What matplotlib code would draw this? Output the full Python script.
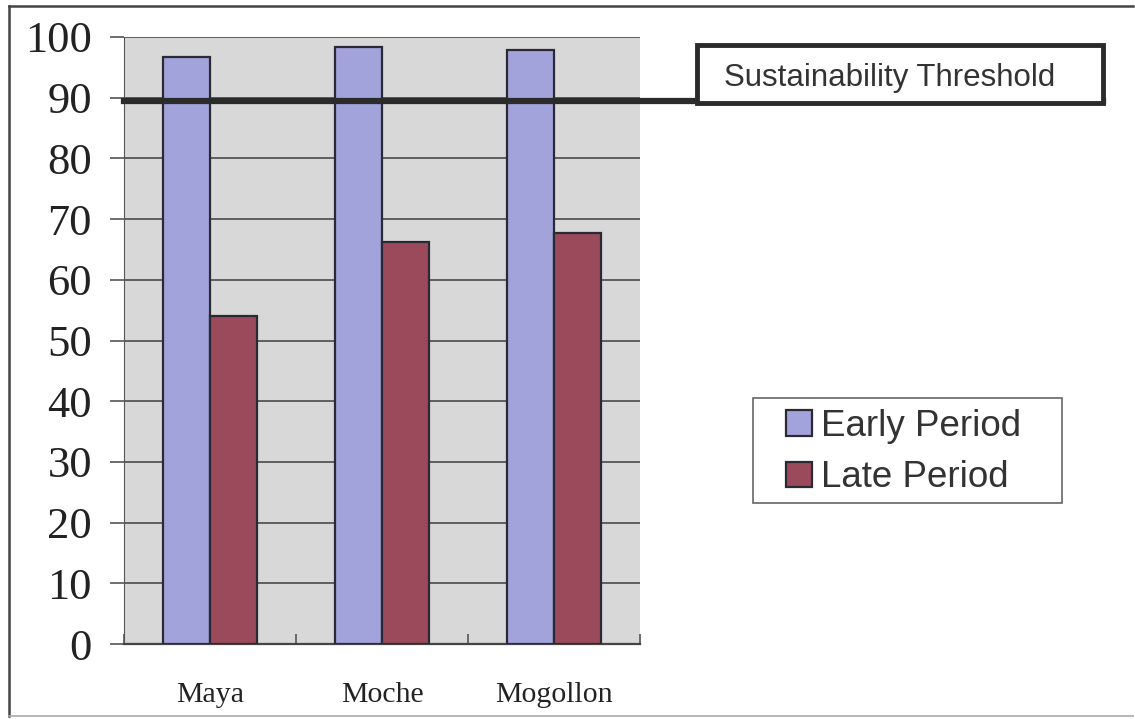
import matplotlib.pyplot as plt
import numpy as np
from matplotlib.patches import Rectangle
from matplotlib.lines import Line2D
from matplotlib.transforms import blended_transform_factory

# datos
culturas = ['Maya', 'Moche', 'Mogollon']
early = [96.7, 98.3, 97.8]
late = [54.1, 66.2, 67.7]
umbral = 89.4
yticks = [0, 10, 20, 30, 40, 50, 60, 70, 80, 90, 100]

W, H = 1135, 719
fig = plt.figure(figsize=(W / 100, H / 100), dpi=100)
ax = fig.add_axes([124 / W, 1 - 644 / H, (640 - 124) / W, (644 - 37) / H])

x = np.arange(len(culturas))
ancho = 0.274
ax.bar(x - ancho / 2, early, ancho, color='#a3a3dc', edgecolor='#2a2a35',
       linewidth=1.6, label='Early Period', zorder=3)
ax.bar(x + ancho / 2, late, ancho, color='#9b4a5c', edgecolor='#2a2a35',
       linewidth=1.6, label='Late Period', zorder=3)

ax.set_xlim(-0.5, len(culturas) - 0.5)
ax.set_ylim(0, 100)
ax.set_facecolor('#d8d8d8')
ax.set_yticks(yticks)
ax.yaxis.grid(True, color='#555555', linewidth=1.3, zorder=1)
ax.set_axisbelow(True)
for s in ['top', 'right']:
    ax.spines[s].set_visible(False)
ax.spines['left'].set_color('#555555')
ax.spines['bottom'].set_color('#444444')
ax.spines['bottom'].set_linewidth(1.6)
ax.tick_params(axis='y', length=10, width=1.2, color='#555555', pad=13,
               labelsize=32, labelfontfamily='Liberation Serif', labelcolor='#222222')

# marcas entre categorias
ax.set_xticks([])
ax.set_xticks(np.arange(-0.5, len(culturas)), minor=True)
ax.tick_params(axis='x', which='minor', direction='in', length=7, width=1.2,
               color='#555555')
for i, c in enumerate(culturas):
    ax.text(i, -6.3, c, ha='center', va='top', fontsize=21.5,
            family='Liberation Serif', color='#222222')

# linea del umbral, sale del grafico hasta la caja
tr = blended_transform_factory(fig.transFigure, ax.transData)
fig.add_artist(Line2D([124 / W, 1103 / W], [umbral, umbral], transform=tr,
                      color='#2b2b2b', linewidth=4.5, zorder=5))
fig.add_artist(Rectangle((697 / W, 1 - 103 / H), 406 / W, 58 / H,
                         transform=fig.transFigure, facecolor='white',
                         edgecolor='#2b2b2b', linewidth=3.5, zorder=6))
fig.text(890 / W, 1 - 78 / H, 'Sustainability Threshold', ha='center',
         va='center', fontsize=22.5, family='Liberation Sans', color='#333333',
         zorder=7)

# leyenda sin marco, el marco se dibuja aparte
fig.add_artist(Rectangle((753 / W, 1 - 503 / H), 309 / W, 105 / H,
                         transform=fig.transFigure, facecolor='white',
                         edgecolor='#666666', linewidth=1.2, zorder=4))
leg = fig.legend(loc='center', bbox_to_anchor=(904 / W, 1 - 452 / H),
                 prop={'family': 'Liberation Sans', 'size': 26.5},
                 frameon=False, handlelength=0.7, handleheight=0.7,
                 handletextpad=0.25, labelspacing=0.45, borderaxespad=0)
leg.set_zorder(5)
for t in leg.get_texts():
    t.set_color('#333333')

# marco exterior
fig.add_artist(Line2D([9 / W, 9 / W], [1 - 6 / H, 1 - 716 / H],
                      transform=fig.transFigure, color='#444444', linewidth=1.8))
fig.add_artist(Line2D([9 / W, 1133 / W], [1 - 6 / H, 1 - 6 / H],
                      transform=fig.transFigure, color='#444444', linewidth=1.8))
fig.add_artist(Line2D([9 / W, 1133 / W], [1 - 716 / H, 1 - 716 / H],
                      transform=fig.transFigure, color='#aaaaaa', linewidth=1.2))

fig.savefig('out.png', dpi=100)
